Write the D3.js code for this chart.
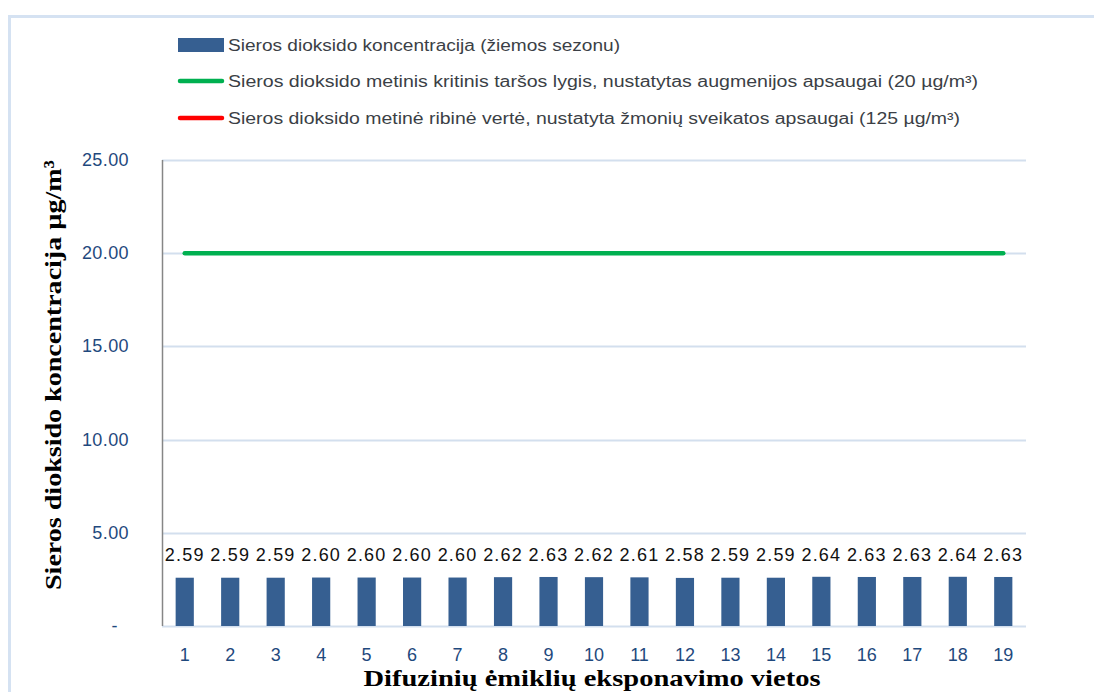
<!DOCTYPE html>
<html lang="lt">
<head>
<meta charset="utf-8">
<title>Sieros dioksido koncentracija</title>
<script src="https://cdn.jsdelivr.net/npm/d3@7"></script>
<style>
  body { margin: 0; background: #fff; }
  svg { display: block; }
  .tick-y { font-family: "Liberation Sans", Arial, sans-serif; font-size: 18px; fill: #1F497D; }
  .tick-x { font-family: "Liberation Sans", Arial, sans-serif; font-size: 18px; fill: #1F497D; }
  .lab { font-family: "Liberation Sans", Arial, sans-serif; font-size: 18px; fill: #111; }
  .leg { font-family: "Liberation Sans", Arial, sans-serif; font-size: 16px; fill: #3b3f46; }
  .title { font-family: "Liberation Serif", "Times New Roman", serif; font-size: 24px; font-weight: bold; fill: #000; }
</style>
</head>
<body>
<script>
// vietos (kategorijos)
var sites = d3.range(1, 20).map(String);
// SO2 koncentracija, ziemos sezonas
var so2 = [2.59, 2.59, 2.59, 2.60, 2.60, 2.60, 2.60, 2.62, 2.63, 2.62,
           2.61, 2.58, 2.59, 2.59, 2.64, 2.63, 2.63, 2.64, 2.63];
var criticalLevel = 20;   // augmenijos apsaugai
var limitValue = 125;     // zmoniu sveikatos apsaugai (virs skales)
var yTicks = [0, 5, 10, 15, 20, 25];
var legendLabels = [
  "Sieros dioksido koncentracija (žiemos sezonu)",
  "Sieros dioksido metinis kritinis taršos lygis, nustatytas augmenijos apsaugai (20 µg/m³)",
  "Sieros dioksido metinė  ribinė vertė, nustatyta žmonių sveikatos apsaugai (125 µg/m³)"
];

var w = 1094, h = 692;
var padL = 162, padR = 1026, padT = 160, padB = 626;

var svg = d3.select("body").append("svg")
  .attr("width", w).attr("height", h);

// outer frame
svg.append("path")
  .attr("d", "M9.5," + h + "V16.5H" + w)
  .attr("fill", "none")
  .attr("stroke", "#D5E2F2")
  .attr("stroke-width", 3);

var x = d3.scaleBand()
  .domain(sites)
  .range([padL, padR])
  .paddingInner(0.6)
  .paddingOuter(0.3);

var y = d3.scaleLinear()
  .domain([0, 25])
  .range([padB, padT]);

// gridlines
svg.append("g").selectAll("line")
  .data(yTicks)
  .enter().append("line")
  .attr("x1", padL).attr("x2", padR)
  .attr("y1", d => Math.round(y(d)) + 0.5)
  .attr("y2", d => Math.round(y(d)) + 0.5)
  .attr("stroke", "#D3DFEE")
  .attr("stroke-width", 2);

// y axis line
svg.append("line")
  .attr("x1", padL + 0.5).attr("x2", padL + 0.5)
  .attr("y1", padT).attr("y2", padB)
  .attr("stroke", "#868686")
  .attr("stroke-width", 1.5);

// y tick labels
svg.append("g").selectAll("text")
  .data(yTicks)
  .enter().append("text")
  .attr("class", "tick-y")
  .attr("x", d => d === 0 ? 118 : 129)
  .attr("y", d => y(d) + 6)
  .attr("text-anchor", "end")
  .attr("letter-spacing", 0.4)
  .text(d => d === 0 ? "-" : d3.format(".2f")(d));

// bars
svg.append("g").selectAll("rect")
  .data(so2)
  .enter().append("rect")
  .attr("x", (d, i) => x(sites[i]))
  .attr("y", d => y(d))
  .attr("width", x.bandwidth())
  .attr("height", d => y(0) - y(d))
  .attr("fill", "#365F91");

// data labels
svg.append("g").selectAll("text")
  .data(so2)
  .enter().append("text")
  .attr("class", "lab")
  .attr("x", (d, i) => x(sites[i]) + x.bandwidth() / 2)
  .attr("y", 561)
  .attr("text-anchor", "middle")
  .attr("letter-spacing", 1.2)
  .text(d => d3.format(".2f")(d));

// critical level line
var line = d3.line()
  .x(d => x(d) + x.bandwidth() / 2)
  .y(() => y(criticalLevel));

svg.append("path")
  .datum(sites)
  .attr("d", line)
  .attr("fill", "none")
  .attr("stroke", "#00B050")
  .attr("stroke-width", 4.5)
  .attr("stroke-linecap", "round");

// x tick labels
svg.append("g").selectAll("text")
  .data(sites)
  .enter().append("text")
  .attr("class", "tick-x")
  .attr("x", d => x(d) + x.bandwidth() / 2)
  .attr("y", 661)
  .attr("text-anchor", "middle")
  .text(d => d);

// axis titles
svg.append("text")
  .attr("class", "title")
  .attr("transform", "translate(61,375) rotate(-90)")
  .attr("text-anchor", "middle")
  .attr("textLength", 430)
  .attr("lengthAdjust", "spacingAndGlyphs")
  .text("Sieros dioksido koncentracija  µg/m³");

svg.append("text")
  .attr("class", "title")
  .attr("x", 592)
  .attr("y", 686)
  .attr("text-anchor", "middle")
  .attr("textLength", 457)
  .attr("lengthAdjust", "spacingAndGlyphs")
  .text("Difuzinių ėmiklių eksponavimo vietos");

// legend
var legY = [45, 81, 118];
var legW = [392, 750, 732];
var leg = svg.append("g");

leg.append("rect")
  .attr("x", 178).attr("y", legY[0] - 7)
  .attr("width", 46).attr("height", 14)
  .attr("fill", "#365F91");

leg.append("line")
  .attr("x1", 180).attr("x2", 222)
  .attr("y1", legY[1]).attr("y2", legY[1])
  .attr("stroke", "#00B050").attr("stroke-width", 4.5)
  .attr("stroke-linecap", "round");

leg.append("line")
  .attr("x1", 180).attr("x2", 222)
  .attr("y1", legY[2]).attr("y2", legY[2])
  .attr("stroke", "#FF0000").attr("stroke-width", 4.5)
  .attr("stroke-linecap", "round");

leg.selectAll("text")
  .data(legendLabels)
  .enter().append("text")
  .attr("class", "leg")
  .attr("x", 228)
  .attr("y", (d, i) => legY[i] + 6)
  .attr("textLength", (d, i) => legW[i])
  .attr("lengthAdjust", "spacingAndGlyphs")
  .text(d => d);
</script>
</body>
</html>
